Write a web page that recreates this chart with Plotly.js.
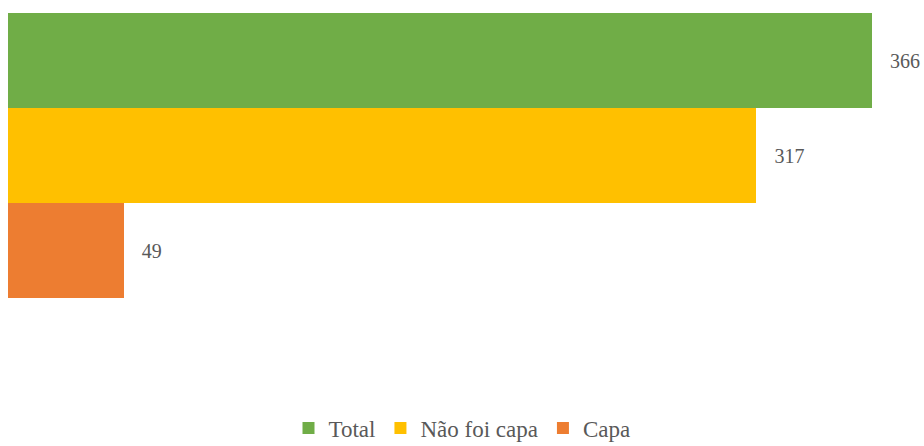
<!DOCTYPE html>
<html><head><meta charset="utf-8">
<script src="https://cdn.plot.ly/plotly-3.0.1.min.js"></script>
<style>html,body{margin:0;padding:0;background:#fff}#chart{width:924px;height:446px}</style>
</head><body><div id="chart"></div>
<script>
const seriesNames = ["Total", "Não foi capa", "Capa"];
const seriesValues = [366, 317, 49];
const seriesColors = ["#70AD47", "#FFC000", "#ED7D31"];
const categoryOrder = ["Capa", "Não foi capa", "Total"];

const traces = seriesNames.map((n, i) => ({
  type: "bar", orientation: "h", name: n,
  x: [seriesValues[i]], y: [n],
  marker: {color: seriesColors[i]},
  text: ["\u00A0\u00A0\u00A0" + seriesValues[i]],
  textposition: "outside", cliponaxis: false,
  textfont: {family: "Liberation Serif", size: 20, color: "#595959"},
  hoverinfo: "x+name"
}));

const layout = {
  width: 924, height: 446,
  margin: {l: 8, r: 8, t: 13, b: 148, autoexpand: false},
  barmode: "overlay", bargap: 0,
  showlegend: true,
  legend: {orientation: "h", x: 0.5, xanchor: "center", y: -0.456, yanchor: "middle",
    font: {family: "Liberation Serif", size: 23, color: "#595959"}, itemwidth: 30},
  xaxis: {range: [0, 384.6], showgrid: false, zeroline: false, showticklabels: false, showline: false, ticks: ""},
  yaxis: {type: "category", categoryorder: "array", categoryarray: categoryOrder,
    range: [-0.5, 2.5], showgrid: false, zeroline: false, showticklabels: false, showline: false, ticks: ""},
  paper_bgcolor: "#fff", plot_bgcolor: "#fff",
  font: {family: "Liberation Serif"}
};
Plotly.newPlot("chart", traces, layout, {displayModeBar: false, staticPlot: true});
</script></body></html>
